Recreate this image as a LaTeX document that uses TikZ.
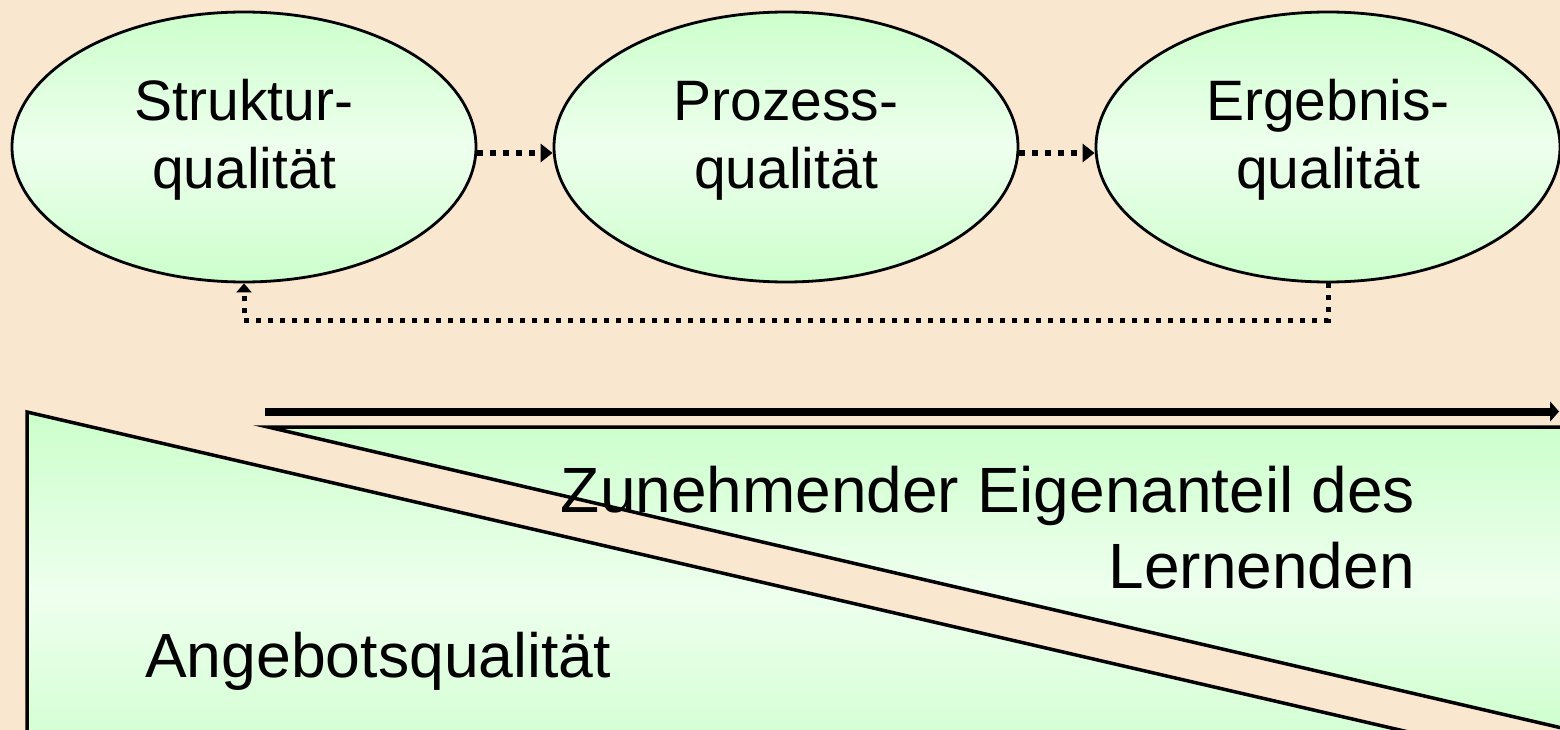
\documentclass[tikz,border=0pt]{standalone}
\usepackage{fontspec}
\setmainfont{Liberation Sans}
\usetikzlibrary{arrows.meta,shapes.geometric}
\definecolor{bg}{HTML}{F9E8CF}
\definecolor{gdark}{HTML}{CCFFCC}
\definecolor{glight}{HTML}{EEFFEE}
\newcommand\qtext[2]{\raisebox{6pt}[\height][\depth]{\begin{tabular}{@{}c@{}}#1\\#2\end{tabular}}}
\tikzset{
 qual/.style={ellipse, draw=black, line width=2.8pt, minimum width=464pt, minimum height=270pt, inner sep=0pt,
   top color=gdark, bottom color=gdark, middle color=glight, font=\fontsize{57}{68}\selectfont},
 dotarrow/.style={line width=5.5pt, dash pattern=on 5.5pt off 7.5pt, -{Triangle[length=12pt,width=18pt]}},
 fbarrow/.style={line width=5pt, dash pattern=on 5pt off 7pt, -{Triangle[length=9pt,width=15pt]}},
 wedge/.style={draw=black, line width=3.5pt, top color=gdark, bottom color=gdark, middle color=glight},
 bigtext/.style={font=\fontsize{64}{77}\selectfont, inner sep=0pt},
 angtext/.style={font=\fontsize{62.5}{75}\selectfont, inner sep=0pt},
 thickarrow/.style={line width=8pt, -{Triangle[length=9pt,width=20pt]}},
}
\begin{document}
\begin{tikzpicture}[x=1pt,y=-1pt]
\fill[bg] (0,0) rectangle (1560,730);
\useasboundingbox (0,0) rectangle (1560,730);
\clip (0,0) rectangle (1560,730);
% wedges
\path[wedge] (268,427) -- (1620,427) -- (1620,741.5) -- cycle;
\path[wedge] (27,412) -- (1620,781) -- (27,781) -- cycle;
% thick arrow
\coordinate (a0) at (265,411.5);
\coordinate (a1) at (1559,411.5);
\draw[thickarrow] (a0) -- (a1);
% texts
\node[bigtext, anchor=base east] (z1) at (1415,512) {Zunehmender Eigenanteil des};
\node[bigtext, anchor=base east] (z2) at (1415,588) {Lernenden};
\node[angtext, anchor=base west] (ang) at (145,677) {Angebotsqualität};
% ellipses
\node[qual] (s) at (244,147) {\qtext{Struktur-}{qualität}};
\node[qual] (p) at (786,147) {\qtext{Prozess-}{qualität}};
\node[qual] (e) at (1328,147) {\qtext{Ergebnis-}{qualität}};
% arrows
\draw[dotarrow] ([yshift=-6pt]s.east) -- ([yshift=-6pt]p.west);
\draw[dotarrow] ([yshift=-6pt]p.east) -- ([yshift=-6pt]e.west);
\draw[fbarrow] (e.south) -- ++(0,37) -| (s.south);
\end{tikzpicture}
\end{document}
